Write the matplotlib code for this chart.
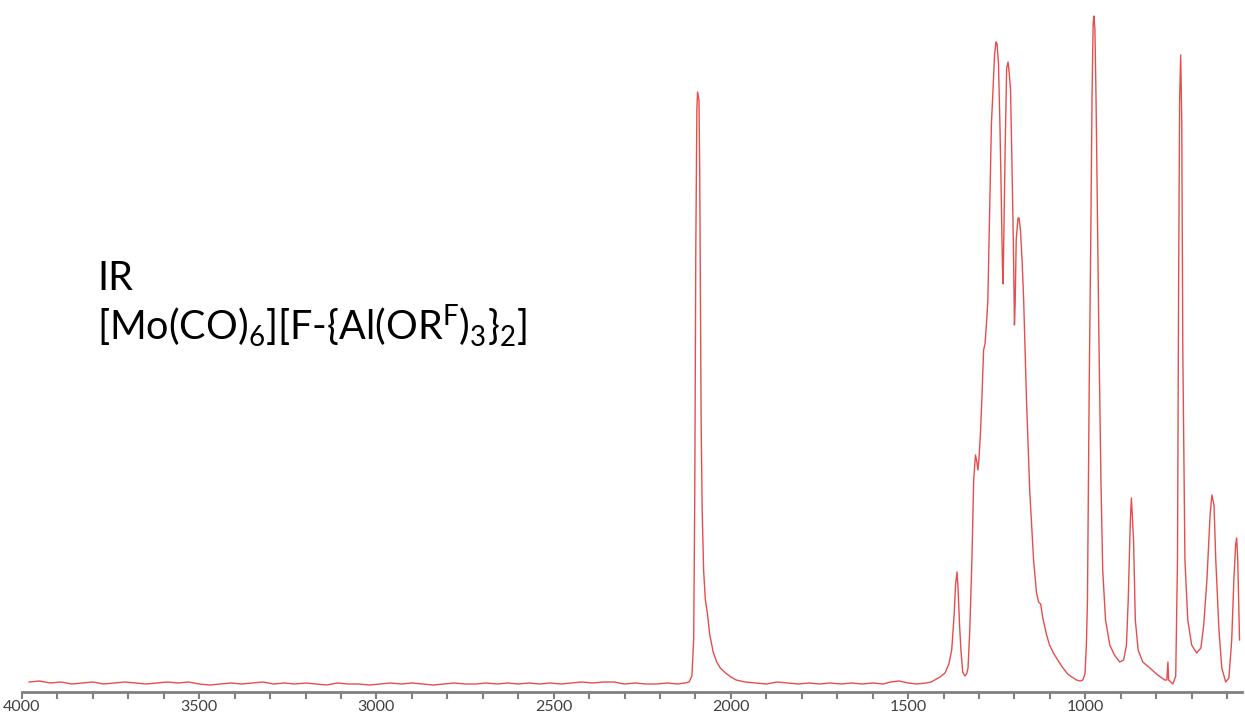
import numpy as np
import matplotlib.pyplot as plt
from matplotlib.ticker import MultipleLocator, FuncFormatter

plt.rcParams['font.family'] = ['Lato', 'DejaVu Sans']
plt.rcParams['mathtext.fontset'] = 'custom'
plt.rcParams['mathtext.rm'] = 'Lato'
plt.rcParams['mathtext.it'] = 'Lato:italic'
plt.rcParams['mathtext.bf'] = 'Lato:bold'

# IR spectrum: wavenumber (cm-1) and absorbance (arbitrary units)
baseline_hi_wn = [3980, 3950, 3920, 3890, 3860, 3830, 3800, 3770, 3740, 3710, 3680, 3650,
                  3620, 3590, 3560, 3530, 3500, 3470, 3440, 3410, 3380, 3350, 3320, 3290,
                  3260, 3230, 3200, 3170, 3140, 3110, 3080, 3050, 3020, 2990, 2960, 2930,
                  2900, 2870, 2840, 2810, 2780, 2750, 2720, 2690, 2660, 2630, 2600, 2570,
                  2540, 2510, 2480, 2450, 2420, 2390, 2360, 2330, 2300, 2270, 2240, 2210,
                  2180, 2150]
baseline_hi_ab = [2, 3, 1, 2, 0, 1, 2, 0, 1, 2, 1, 0,
                  1, 2, 1, 2, 0, -1, 0, 1, 0, 1, 2, 0,
                  1, 0, 1, 0, -1, 1, 0, 0, -1, 0, 1, 0,
                  1, 0, -1, 0, 1, 0, 0, 1, 0, 1, 0, 1,
                  0, 1, 0, 1, 2, 1, 2, 2, 0, 1, 0, 0,
                  1, 0]

co_band_wn = [2130, 2118, 2110, 2105, 2102, 2099, 2096, 2094, 2092, 2090, 2088, 2086,
              2084, 2081, 2077, 2072, 2066, 2060, 2050, 2040, 2030, 2015, 2000, 1985, 1960]
co_band_ab = [1, 2, 8, 44, 184, 434, 574, 592, 588, 584, 514, 384,
              264, 174, 114, 84, 70, 50, 32, 22, 16, 11, 7, 4, 2]

baseline_lo_wn = [1930, 1900, 1870, 1840, 1810, 1780, 1750, 1720, 1690, 1660, 1630, 1600,
                  1570, 1550, 1525, 1500, 1475, 1450, 1435]
baseline_lo_ab = [1, 0, 2, 1, 0, 1, 0, 1, 0, 1, 0, 1,
                  0, 2, 3, 1, 0, 1, 2]

anion_wn = [1425, 1410, 1396, 1385, 1377, 1370, 1366, 1362, 1359, 1355, 1351, 1346,
            1340, 1335, 1331, 1326, 1320, 1315, 1310, 1306, 1303, 1300, 1296, 1292,
            1287, 1283, 1279, 1275, 1270, 1265, 1261, 1256, 1252, 1249, 1245, 1241,
            1238, 1234, 1232, 1229, 1226, 1222, 1218, 1215, 1211, 1207, 1203, 1200,
            1198, 1195, 1190, 1187, 1183, 1178, 1174, 1166, 1157, 1146, 1138, 1132,
            1126, 1120, 1110, 1101, 1090, 1078, 1065, 1050, 1038, 1025, 1015, 1007,
            1001, 997, 994, 989, 985, 981, 978, 976, 973, 970, 968, 962,
            956, 951, 943, 931, 918, 903, 892, 884, 879, 873, 870, 864,
            859, 851, 838, 818, 796, 776, 770, 767, 765, 753, 745, 740,
            737, 734, 731, 728, 725, 719, 711, 700, 686, 674, 666, 657,
            648, 643, 637, 632, 623, 615, 604, 595, 587, 581, 576, 573,
            570, 565]
anion_ab = [4, 7, 11, 20, 34, 70, 100, 112, 95, 60, 34, 12,
            8, 10, 16, 54, 124, 204, 229, 222, 214, 226, 250, 284,
            334, 340, 360, 384, 470, 560, 590, 630, 642, 640, 620, 560,
            504, 420, 400, 470, 540, 616, 622, 612, 594, 520, 440, 359,
            380, 444, 466, 466, 454, 420, 384, 284, 194, 124, 92, 82,
            80, 66, 50, 39, 31, 24, 17, 10, 7, 4, 3, 4,
            10, 40, 84, 300, 434, 590, 660, 668, 655, 590, 534, 354,
            204, 114, 64, 39, 29, 22, 24, 39, 84, 164, 186, 144,
            64, 34, 22, 16, 9, 4, 4, 22, 4, 0, 8, 124,
            384, 584, 629, 564, 334, 124, 64, 39, 31, 36, 59, 104,
            169, 189, 179, 124, 54, 16, 2, 6, 44, 104, 139, 146,
            124, 44]

wavenumber = np.array(baseline_hi_wn + co_band_wn + baseline_lo_wn + anion_wn)
absorbance = np.array(baseline_hi_ab + co_band_ab + baseline_lo_ab + anion_ab)

fig = plt.figure(figsize=(12.45, 7.13), dpi=100)
ax = fig.add_axes([22 / 1245, 21 / 713, 1220 / 1245, 692 / 713])

ax.plot(wavenumber, absorbance, color='#e64d4d', lw=1.0)

ax.set_xlim(4000, 558)
ax.set_ylim(-8, 684)

for s in ['top', 'left', 'right']:
    ax.spines[s].set_visible(False)
ax.spines['bottom'].set_color('#808080')
ax.spines['bottom'].set_linewidth(2)
ax.set_yticks([])

ax.xaxis.set_major_locator(MultipleLocator(100))
ax.xaxis.set_major_formatter(FuncFormatter(lambda v, p: f'{int(v)}' if int(round(v)) % 500 == 0 else ''))
ax.tick_params(axis='x', direction='out', length=5, width=1.5, color='#808080',
               labelsize=11.5, labelcolor='#404040', pad=1)

fig.text(97 / 1245, 1 - 290 / 713, 'IR', fontsize=28.5, color='black', va='baseline')
fig.text(97 / 1245, 1 - 340 / 713,
         r'[Mo(CO)$_6$][F-{Al(OR$^\mathrm{F}$)$_3$}$_2$]',
         fontsize=28.5, color='black', va='baseline')

fig.savefig('out.png', dpi=100)
